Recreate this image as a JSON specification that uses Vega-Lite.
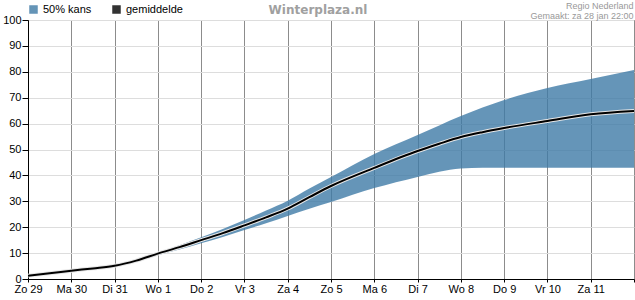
{
  "$schema": "https://vega.github.io/schema/vega-lite/v6.json",
  "width": 606,
  "height": 259,
  "autosize": {"type": "none"},
  "padding": {"left": 28, "top": 20, "right": 1, "bottom": 21},
  "background": "white",
  "title": {
    "text": "Winterplaza.nl",
    "anchor": "middle",
    "dx": -13,
    "offset": -16,
    "font": "DejaVu Sans",
    "fontSize": 12,
    "fontWeight": "bold",
    "color": "#a0a0a0"
  },
  "config": {
    "view": {"stroke": "#000000", "strokeWidth": 1},
    "axis": {"labelFont": "Liberation Sans", "labelFontSize": 11, "labelColor": "#000000", "domainColor": "#000000", "tickColor": "#000000", "labelOverlap": false},
    "axisY": {
      "labelOverlap": false,
      "grid": true,
      "gridColor": "#dddddd",
      "tickSize": 6,
      "labelPadding": 1,
      "titleAngle": 0,
      "titleX": 605,
      "titleY": -12,
      "titleAlign": "right",
      "titleBaseline": "alphabetic",
      "titleFont": "Liberation Sans",
      "titleFontSize": 9,
      "titleFontWeight": "normal",
      "titleColor": "#999999",
      "titleLineHeight": 10
    }
  },
  "data": {
    "values": [
      {"d": 0, "lo": 1.0, "mean": 1.3, "hi": 1.5},
      {"d": 0.5, "lo": 1.9, "mean": 2.2, "hi": 2.4},
      {"d": 1, "lo": 2.9, "mean": 3.2, "hi": 3.4},
      {"d": 1.5, "lo": 3.8, "mean": 4.1, "hi": 4.3},
      {"d": 2, "lo": 4.8, "mean": 5.1, "hi": 5.3},
      {"d": 2.5, "lo": 6.7, "mean": 7.1, "hi": 7.4},
      {"d": 3, "lo": 9.2, "mean": 9.8, "hi": 10.2},
      {"d": 3.5, "lo": 11.4, "mean": 12.3, "hi": 13.0},
      {"d": 4, "lo": 13.8, "mean": 15.0, "hi": 16.1},
      {"d": 4.5, "lo": 16.2, "mean": 17.7, "hi": 19.3},
      {"d": 5, "lo": 18.9, "mean": 20.7, "hi": 22.8},
      {"d": 5.5, "lo": 21.5, "mean": 23.8, "hi": 26.4},
      {"d": 6, "lo": 24.3, "mean": 27.2, "hi": 30.2},
      {"d": 6.5, "lo": 27.1, "mean": 31.6, "hi": 34.9},
      {"d": 7, "lo": 29.7, "mean": 35.9, "hi": 39.4},
      {"d": 8, "lo": 35.1, "mean": 42.9, "hi": 48.3},
      {"d": 9, "lo": 39.4, "mean": 49.4, "hi": 55.6},
      {"d": 9.5, "lo": 41.4, "mean": 52.2, "hi": 59.3},
      {"d": 10, "lo": 42.7, "mean": 54.8, "hi": 62.9},
      {"d": 10.5, "lo": 43.0, "mean": 56.7, "hi": 66.2},
      {"d": 11, "lo": 43.0, "mean": 58.3, "hi": 69.1},
      {"d": 12, "lo": 43.0, "mean": 61.0, "hi": 73.7},
      {"d": 13, "lo": 43.0, "mean": 63.6, "hi": 77.2},
      {"d": 14, "lo": 43.0, "mean": 64.9, "hi": 80.7}
    ]
  },
  "encoding": {
    "x": {
      "field": "d",
      "type": "quantitative",
      "scale": {"domain": [0, 14], "nice": false, "zero": false},
      "axis": {
        "title": null,
        "values": [0, 1, 2, 3, 4, 5, 6, 7, 8, 9, 10, 11, 12, 13, 14],
        "labelExpr": "['Zo 29','Ma 30','Di 31','Wo 1','Do 2','Vr 3','Za 4','Zo 5','Ma 6','Di 7','Wo 8','Do 9','Vr 10','Za 11',''][datum.value]",
        "labelOverlap": false,
        "labelFlush": false,
        "grid": true,
        "gridColor": "#8c8c8c",
        "gridWidth": 1,
        "tickSize": 3,
        "labelPadding": 1
      }
    }
  },
  "layer": [
    {
      "mark": {"type": "area", "interpolate": "monotone", "opacity": 0.8},
      "encoding": {
        "y": {
          "field": "lo",
          "type": "quantitative",
          "scale": {"domain": [0, 100], "nice": false},
          "axis": {
            "values": [0, 10, 20, 30, 40, 50, 60, 70, 80, 90, 100],
            "title": ["Regio Nederland", "Gemaakt: za 28 jan 22:00"]
          }
        },
        "y2": {"field": "hi"},
        "color": {
          "datum": "50% kans",
          "scale": {"domain": ["50% kans", "gemiddelde"], "range": ["#3f7ba6", "#000000"]},
          "legend": {
            "title": null,
            "orient": "none",
            "legendX": 0,
            "legendY": -16,
            "direction": "horizontal",
            "symbolType": "square",
            "symbolSize": 49,
            "labelFont": "Liberation Sans",
            "labelFontSize": 11,
            "labelColor": "#000000",
            "labelOffset": 4,
            "columnPadding": 18,
            "padding": 0,
            "encode": {
              "symbols": {
                "update": {
                  "fill": {"signal": "datum.value == '50% kans' ? '#6595b8' : '#000000'"},
                  "stroke": {"value": "#333333"},
                  "strokeWidth": {"value": 1},
                  "opacity": {"value": 1}
                }
              }
            }
          }
        }
      }
    },
    {
      "mark": {"type": "line", "interpolate": "monotone", "stroke": "#e6e6e6", "strokeWidth": 4},
      "encoding": {
        "y": {
          "field": "mean",
          "type": "quantitative",
          "scale": {"domain": [0, 100], "nice": false},
          "axis": {
            "values": [0, 10, 20, 30, 40, 50, 60, 70, 80, 90, 100],
            "title": ["Regio Nederland", "Gemaakt: za 28 jan 22:00"]
          }
        }
      }
    },
    {
      "mark": {"type": "line", "interpolate": "monotone", "strokeWidth": 2},
      "encoding": {
        "y": {
          "field": "mean",
          "type": "quantitative",
          "scale": {"domain": [0, 100], "nice": false},
          "axis": {
            "values": [0, 10, 20, 30, 40, 50, 60, 70, 80, 90, 100],
            "title": ["Regio Nederland", "Gemaakt: za 28 jan 22:00"]
          }
        },
        "color": {"datum": "gemiddelde"}
      }
    }
  ]
}
